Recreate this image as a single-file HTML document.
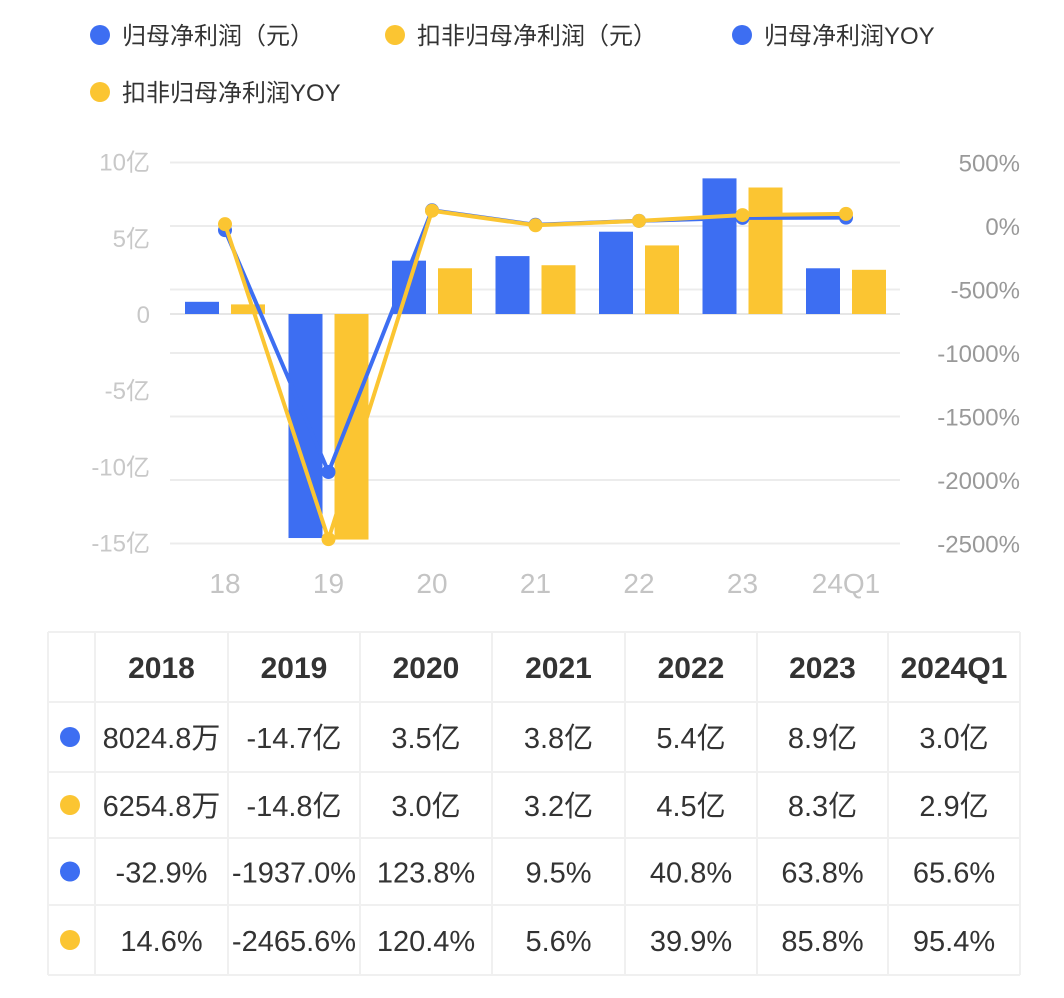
<!DOCTYPE html>
<html><head><meta charset="utf-8">
<style>
body{margin:0;background:#fff;width:1064px;height:993px;overflow:hidden;font-family:"Liberation Sans","Noto Sans CJK SC",sans-serif;}
svg text{font-family:"Liberation Sans","Noto Sans CJK SC",sans-serif;}
</style></head><body>
<svg id="c" width="1064" height="993"></svg>
<script>
const categories=["18","19","20","21","22","23","24Q1"];
const profit=[0.80,-14.7,3.5,3.8,5.4,8.9,3.0];
const profitEx=[0.63,-14.8,3.0,3.2,4.5,8.3,2.9];
const yoy=[-32.9,-1937.0,123.8,9.5,40.8,63.8,65.6];
const yoyEx=[14.6,-2465.6,120.4,5.6,39.9,85.8,95.4];
const leftTicks=[10,5,0,-5,-10,-15];
const leftTickLabels=["10亿","5亿","0","-5亿","-10亿","-15亿"];
const rightTicks=[500,0,-500,-1000,-1500,-2000,-2500];
const tableHead=["2018","2019","2020","2021","2022","2023","2024Q1"];
const row1=["8024.8万","-14.7亿","3.5亿","3.8亿","5.4亿","8.9亿","3.0亿"];
const row2=["6254.8万","-14.8亿","3.0亿","3.2亿","4.5亿","8.3亿","2.9亿"];
const row3=["-32.9%","-1937.0%","123.8%","9.5%","40.8%","63.8%","65.6%"];
const row4=["14.6%","-2465.6%","120.4%","5.6%","39.9%","85.8%","95.4%"];

const BLUE="#3d6ef2",YEL="#fbc532";
const svg=document.getElementById('c');
const NS="http://www.w3.org/2000/svg";
function mk(t,a,p){const e=document.createElementNS(NS,t);for(const k in a)e.setAttribute(k,a[k]);(p||svg).appendChild(e);return e;}
const yL=v=>314-v*15.24;
const yR=v=>226-v*0.127;
const xC=i=>225+i*103.5;

// legend
const leg=[[100,35,BLUE,"归母净利润（元）"],[395,35,YEL,"扣非归母净利润（元）"],[742,35,BLUE,"归母净利润YOY"],[100,92,YEL,"扣非归母净利润YOY"]];
leg.forEach(l=>{
  const g=mk('g',{});
  
  
  mk('circle',{cx:l[0],cy:l[1],r:10,fill:l[2]},g);
  const t=mk('text',{x:l[0]+22,y:l[1]+9,'font-size':24,fill:'#333'},g);t.textContent=l[3];
});

// gridlines
rightTicks.forEach(v=>{const ln=mk('line',{x1:170,x2:900,y1:yR(v),y2:yR(v),stroke:'#ececec','stroke-width':2});
});
const z=mk('line',{x1:170,x2:900,y1:yL(0),y2:yL(0),stroke:'#e6e6e6','stroke-width':2});


leftTicks.forEach((v,i)=>{const t=mk('text',{x:150,y:yL(v)+9,'text-anchor':'end','font-size':24,fill:'#c8c8c8'});t.textContent=leftTickLabels[i];
});
rightTicks.forEach(v=>{const t=mk('text',{x:1020,y:yR(v)+9,'text-anchor':'end','font-size':24,fill:'#999'});t.textContent=v+'%';
});
categories.forEach((c,i)=>{const t=mk('text',{x:xC(i),y:593,'text-anchor':'middle','font-size':28,fill:'#c4c4c4'});t.textContent=c;
});

// bars
function bar(v,x,col,name){const y0=yL(0),y1=yL(v);const r=mk('rect',{x:x,y:Math.min(y0,y1),width:34,height:Math.abs(y1-y0),fill:col});
}
profit.forEach((v,i)=>bar(v,xC(i)-40,BLUE,'bar-profit'));
profitEx.forEach((v,i)=>bar(v,xC(i)+6,YEL,'bar-profit-ex'));

// lines
function line(arr,col,name){
  const p=mk('polyline',{points:arr.map((v,i)=>xC(i)+','+yR(v)).join(' '),fill:'none',stroke:col,'stroke-width':4,'stroke-linejoin':'round'});
  
  arr.forEach((v,i)=>{const c=mk('circle',{cx:xC(i),cy:yR(v),r:7,fill:col});
  });
}
line(yoy,BLUE,'yoy');
line(yoyEx,YEL,'yoy-ex');

// table
const tg=mk('g',{});
const colX=[48,95,228,360,492,625,757,888,1020];
const rowY=[632,702,772,838,905,975];
colX.forEach(x=>mk('line',{x1:x,x2:x,y1:632,y2:975,stroke:'#f0f0f0','stroke-width':2},tg));
rowY.forEach(y=>mk('line',{x1:48,x2:1020,y1:y,y2:y,stroke:'#f0f0f0','stroke-width':2},tg));
const rows=[[null,tableHead],[BLUE,row1],[YEL,row2],[BLUE,row3],[YEL,row4]];
rows.forEach((r,ri)=>{
  const cy=(rowY[ri]+rowY[ri+1])/2;
  if(r[0]){const d=mk('circle',{cx:70,cy:cy,r:10,fill:r[0]},tg);}
  r[1].forEach((s,ci)=>{const t=mk('text',{x:(colX[ci+1]+colX[ci+2])/2,y:cy+11,'text-anchor':'middle','font-size':ri==0?30:29,'font-weight':ri==0?'bold':'normal',fill:'#333'},tg);t.textContent=s;
  });
});
</script>
</body></html>
